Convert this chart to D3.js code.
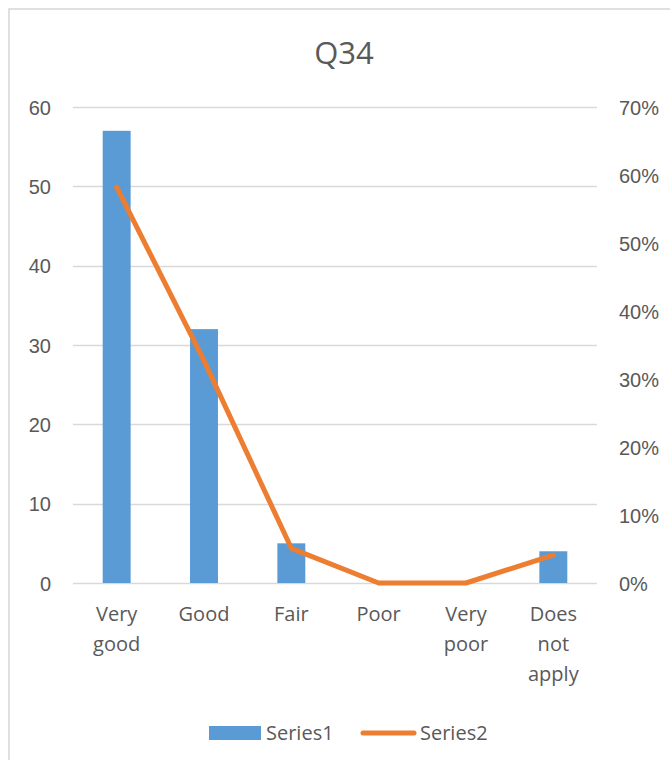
<!DOCTYPE html>
<html>
<head>
<meta charset="utf-8">
<script src="https://cdn.jsdelivr.net/npm/d3@7"></script>
<style>
  html, body { margin: 0; padding: 0; background: #fff; }
  svg { display: block; font-family: "Open Sans", "Noto Sans", sans-serif; }
</style>
</head>
<body>
<svg id="chart"></svg>
<script>
// categories and values
var categories = [["Very", "good"], ["Good"], ["Fair"], ["Poor"], ["Very", "poor"], ["Does", "not", "apply"]];
var series1 = [57, 32, 5, 0, 0, 4];
var series2 = [0.582, 0.327, 0.051, 0, 0, 0.041];
var leftTicks = [0, 10, 20, 30, 40, 50, 60];
var rightTicks = [0, 0.1, 0.2, 0.3, 0.4, 0.5, 0.6, 0.7];
var seriesNames = ["Series1", "Series2"];

var width = 670,
    height = 760,
    margin = {top: 107, right: 73, bottom: 177, left: 73},
    innerwidth = width - margin.left - margin.right,
    innerheight = height - margin.top - margin.bottom;

var blue = "#5B9BD5", orange = "#ED7D31", grid = "#d9d9d9", textColor = "#595959";
var fontSize = "20px";

var svg = d3.select("#chart")
    .attr("width", width)
    .attr("height", height);

// outer chart border
svg.append("rect")
    .attr("x", 9).attr("y", 9)
    .attr("width", width + 20).attr("height", height + 20)
    .attr("fill", "#fff")
    .attr("stroke", grid)
    .attr("stroke-width", 1.6);

svg.append("text")
    .attr("x", 344)
    .attr("y", 64)
    .attr("text-anchor", "middle")
    .attr("fill", textColor)
    .style("font-size", "31px")
    .text("Q34");

var g = svg.append("g")
    .attr("transform", "translate(" + margin.left + "," + margin.top + ")");

var x = d3.scaleBand()
    .domain(d3.range(categories.length))
    .range([0, innerwidth])
    .paddingInner(0.68)
    .paddingOuter(0.34);

var y = d3.scaleLinear().domain([0, 60]).range([innerheight, 0]);
var y2 = d3.scaleLinear().domain([0, 0.7]).range([innerheight, 0]);

// gridlines
g.append("g")
    .selectAll("line")
    .data(leftTicks)
    .enter().append("line")
    .attr("x1", 0).attr("x2", innerwidth)
    .attr("y1", function(d) { return Math.round(y(d)) + 0.5; })
    .attr("y2", function(d) { return Math.round(y(d)) + 0.5; })
    .attr("stroke", grid)
    .attr("stroke-width", 1.3);

// left axis
var yAxis = g.append("g")
    .call(d3.axisLeft(y).tickValues(leftTicks).tickSize(0).tickPadding(22));
yAxis.select(".domain").remove();
yAxis.selectAll("text")
    .attr("fill", textColor)
    .style("font-size", fontSize)
    .attr("dy", "0.35em");

// right axis
var yAxis2 = g.append("g")
    .attr("transform", "translate(" + innerwidth + ",0)")
    .call(d3.axisRight(y2).tickValues(rightTicks).tickSize(0).tickPadding(22).tickFormat(d3.format(".0%")));
yAxis2.select(".domain").remove();
yAxis2.selectAll("text")
    .attr("fill", textColor)
    .style("font-size", fontSize)
    .attr("dy", "0.35em");

// bars
g.selectAll(".bar")
    .data(series1)
    .enter().append("rect")
    .attr("class", "bar")
    .attr("x", function(d, i) { return x(i); })
    .attr("width", x.bandwidth())
    .attr("y", function(d) { return y(d); })
    .attr("height", function(d) { return innerheight - y(d); })
    .attr("fill", blue);

// line
var line = d3.line()
    .x(function(d, i) { return x(i) + x.bandwidth() / 2; })
    .y(function(d) { return y2(d); });

g.append("path")
    .datum(series2)
    .attr("fill", "none")
    .attr("stroke", orange)
    .attr("stroke-width", 5)
    .attr("stroke-linejoin", "round")
    .attr("stroke-linecap", "round")
    .attr("d", line);

// category labels
var labels = g.append("g")
    .selectAll("text")
    .data(categories)
    .enter().append("text")
    .attr("text-anchor", "middle")
    .attr("fill", textColor)
    .style("font-size", fontSize)
    .attr("transform", function(d, i) {
        return "translate(" + (x(i) + x.bandwidth() / 2) + "," + (innerheight + 38) + ")";
    });
labels.selectAll("tspan")
    .data(function(d) { return d; })
    .enter().append("tspan")
    .attr("x", 0)
    .attr("y", function(d, i) { return i * 30; })
    .text(function(d) { return d; });

// legend
var legend = svg.append("g");
legend.append("rect")
    .attr("x", 209).attr("y", 726)
    .attr("width", 52).attr("height", 14)
    .attr("fill", blue);
legend.append("text")
    .attr("x", 266).attr("y", 733)
    .attr("dy", "0.35em")
    .attr("fill", textColor)
    .style("font-size", fontSize)
    .text(seriesNames[0]);
legend.append("line")
    .attr("x1", 363).attr("x2", 414)
    .attr("y1", 733).attr("y2", 733)
    .attr("stroke", orange)
    .attr("stroke-width", 5)
    .attr("stroke-linecap", "round");
legend.append("text")
    .attr("x", 420).attr("y", 733)
    .attr("dy", "0.35em")
    .attr("fill", textColor)
    .style("font-size", fontSize)
    .text(seriesNames[1]);
</script>
</body>
</html>
